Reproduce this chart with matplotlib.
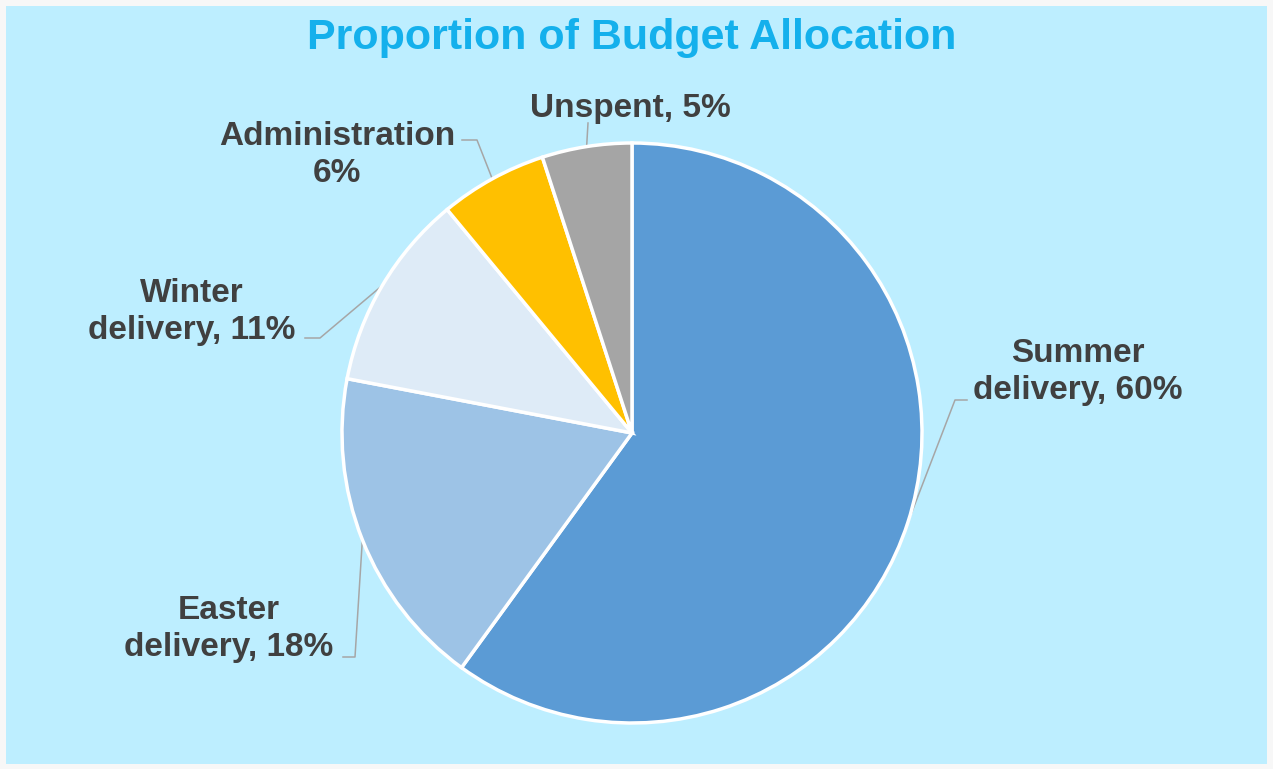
import numpy as np
import matplotlib.pyplot as plt
from matplotlib.patches import Rectangle

# data
categories = ['Summer\ndelivery, 60%', 'Easter\ndelivery, 18%', 'Winter\ndelivery, 11%',
              'Administration\n6%', 'Unspent, 5%']
shares = [60, 18, 11, 6, 5]
colors = ['#5B9BD5', '#9DC3E6', '#DEEBF7', '#FFC000', '#A5A5A5']

W, H = 1273, 769
CX, CY, R = 632, 433, 290   # pie centre / radius in pixels


def px(x, y):
    """pixel position -> data coords of the pie axes"""
    return (x - CX) / R, (CY - y) / R


fig = plt.figure(figsize=(W / 100, H / 100), dpi=100)
fig.patch.set_facecolor('#F7F7F7')
fig.patches.append(Rectangle((6 / W, 5 / H), 1261 / W, 758 / H, transform=fig.transFigure,
                             facecolor='#BDEEFF', edgecolor='none', zorder=-5))

ax = fig.add_axes([0, 0, 1, 1])
ax.set_facecolor('none')
wedges, _ = ax.pie(shares, colors=colors, startangle=90, counterclock=False, radius=1,
                   wedgeprops=dict(edgecolor='white', linewidth=2.5))
ax.set_aspect('auto')
ax.set_xlim(-CX / R, (W - CX) / R)
ax.set_ylim(-(H - CY) / R, CY / R)
ax.axis('off')

# label layout: text centre, elbow point, end of leader (pixels)
layout = [
    ((1078, 372), (955, 400), (967, 400)),
    ((229, 629), (355, 657), (343, 657)),
    ((192, 312), (320, 338), (305, 338)),
    ((337, 155), (477, 140), (462, 140)),
    ((630, 108), (588, 123), (588, 123)),
]

for w, label, (txt, elbow, end) in zip(wedges, categories, layout):
    mid = np.deg2rad((w.theta1 + w.theta2) / 2)
    sx, sy = np.cos(mid), np.sin(mid)
    ex, ey = px(*elbow)
    fx, fy = px(*end)
    ax.plot([sx, ex, fx], [sy, ey, fy], color='#A6A6A6', lw=1.1, zorder=0.5)
    tx, ty = px(*txt)
    ax.text(tx, ty, label, ha='center', va='center', fontsize=24, fontweight='bold',
            color='#404040', family='Liberation Sans', linespacing=1.25)

fig.text(CX / W, 1 - 38 / H, 'Proportion of Budget Allocation', ha='center', va='center',
         fontsize=31, fontweight='bold', color='#14B0EC', family='Liberation Sans')

plt.savefig('out.png', dpi=100, facecolor=fig.get_facecolor())
